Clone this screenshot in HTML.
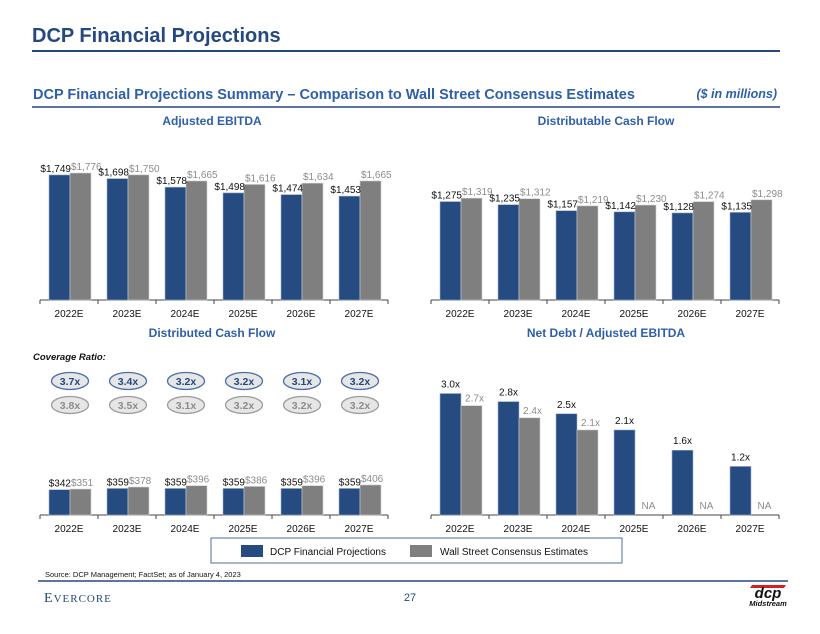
<!DOCTYPE html>
<html><head><meta charset="utf-8">
<style>
body{margin:0;background:#fff;}
svg{display:block;font-family:"Liberation Sans",Arial,sans-serif;}
</style></head>
<body>
<svg id="page" width="820" height="634" viewBox="0 0 820 634">
<text x="32" y="42" font-size="20" font-weight="bold" fill="#24497F">DCP Financial Projections</text>
<line x1="32" y1="51" x2="780" y2="51" stroke="#24497F" stroke-width="2"/>
<text x="33" y="99" font-size="14.5" font-weight="bold" fill="#2E5FA8">DCP Financial Projections Summary – Comparison to Wall Street Consensus Estimates</text>
<text x="777" y="98" font-size="12.5" font-weight="bold" font-style="italic" fill="#2E5FA8" text-anchor="end">($ in millions)</text>
<line x1="32" y1="107" x2="780" y2="107" stroke="#24497F" stroke-width="1.5"/>
<text x="212" y="125" font-size="12" font-weight="bold" fill="#2E5FA8" text-anchor="middle">Adjusted EBITDA</text>
<text x="606" y="125" font-size="12" font-weight="bold" fill="#2E5FA8" text-anchor="middle">Distributable Cash Flow</text>
<text x="212" y="337" font-size="12" font-weight="bold" fill="#2E5FA8" text-anchor="middle">Distributed Cash Flow</text>
<text x="606" y="337" font-size="12" font-weight="bold" fill="#2E5FA8" text-anchor="middle">Net Debt / Adjusted EBITDA</text>
<text x="33" y="360" font-size="9.5" font-weight="bold" font-style="italic" fill="#111">Coverage Ratio:</text>
<g id="charts"></g>
<g>
<rect x="211" y="538" width="411" height="25" fill="#fff" stroke="#4A6EA0" stroke-width="1"/>
<rect x="241" y="545" width="22" height="12" fill="#254B80"/>
<text x="270" y="555" font-size="10" fill="#111">DCP Financial Projections</text>
<rect x="410" y="545" width="22" height="12" fill="#7F7F7F"/>
<text x="440" y="555" font-size="10" fill="#111">Wall Street Consensus Estimates</text>
</g>
<text x="45" y="577" font-size="7.5" fill="#111">Source: DCP Management; FactSet; as of January 4, 2023</text>
<line x1="38" y1="581" x2="788" y2="581" stroke="#24497F" stroke-width="1.5"/>
<text x="44" y="602" font-size="14" fill="#24497F" font-family="Liberation Serif,serif" letter-spacing="1">E<tspan font-size="11">VERCORE</tspan></text>
<text x="410" y="601" font-size="11" fill="#24497F" text-anchor="middle">27</text>
<g>
<path d="M752 585 L786 585 L784 588 L750 588Z" fill="#D32027"/>
<text x="768" y="598" font-size="15" font-weight="bold" font-style="italic" fill="#111" text-anchor="middle">dcp</text>
<text x="768" y="606" font-size="7.5" font-weight="bold" font-style="italic" fill="#111" text-anchor="middle">Midstream</text>
</g>
</svg>
<script>
const categories = ["2022E","2023E","2024E","2025E","2026E","2027E"];
const ebitdaDcp = [1749,1698,1578,1498,1474,1453];
const ebitdaStreet = [1776,1750,1665,1616,1634,1665];
const dcfDcp = [1275,1235,1157,1142,1128,1135];
const dcfStreet = [1319,1312,1219,1230,1274,1298];
const distDcp = [342,359,359,359,359,359];
const distStreet = [351,378,396,386,396,406];
const coverageDcp = ["3.7x","3.4x","3.2x","3.2x","3.1x","3.2x"];
const coverageStreet = ["3.8x","3.5x","3.1x","3.2x","3.2x","3.2x"];
const leverageDcp = [3.0,2.8,2.5,2.1,1.6,1.2];
const leverageStreet = [2.7,2.4,2.1,null,null,null];

const NS = "http://www.w3.org/2000/svg";
const root = document.getElementById('charts');
function mk(tag, attrs, parent){
  const e = document.createElementNS(NS, tag);
  for (const k in attrs) e.setAttribute(k, attrs[k]);
  (parent||root).appendChild(e);
  return e;
}
function fmt$(v){ return '$' + v.toLocaleString('en-US'); }

function chart(opt){
  const g = mk('g', {});
  
  
  const x0 = opt.x0, x1 = opt.x1, base = opt.base;
  const gw = (x1 - x0) / categories.length;
  const y = v => base - v * opt.scale;
  const ax = mk('line', {x1:x0, y1:base, x2:x1, y2:base, stroke:'#444', 'stroke-width':1}, g);
  
  
  for (let i = 0; i <= categories.length; i++) {
    const t = mk('line', {x1:x0+i*gw, y1:base, x2:x0+i*gw, y2:base+4, stroke:'#444'}, g);
    
    
  }
  categories.forEach((c, i) => {
    const gx = x0 + i*gw;
    const bx = gx + 9, sx = gx + 30, bw = 21;
    const lab = mk('text', {x:gx+gw/2, y:base+17, 'font-size':10, fill:'#111', 'text-anchor':'middle'}, g);
    lab.textContent = c;
    
    
    const vb = opt.dcp[i];
    const r1 = mk('rect', {x:bx, y:y(vb), width:bw, height:base-y(vb), fill:'#254B80', stroke:'#9FB3D1', 'stroke-width':0.6}, g);
    
    
    const vs = opt.street[i];
    if (vs != null) {
      const r2 = mk('rect', {x:sx, y:y(vs), width:bw, height:base-y(vs), fill:'#7F7F7F', stroke:'#CFCFCF', 'stroke-width':0.6}, g);
      
      
    }
    if (opt.lev) {
      const t1 = mk('text', {x:bx+bw/2, y:y(vb)-6, 'font-size':10, fill:'#111', 'text-anchor':'middle'}, g);
      t1.textContent = vb.toFixed(1) + 'x';
      
      
      const t2 = mk('text', {x:sx+bw/2+3, y: vs!=null ? y(vs)-4 : base-6, 'font-size':10, fill:'#8C8C8C', 'text-anchor':'middle'}, g);
      t2.textContent = vs!=null ? vs.toFixed(1) + 'x' : 'NA';
      
      
    } else {
      const t1 = mk('text', {x:bx+bw+1, y:y(vb)-3, 'font-size':10, fill:'#111', 'text-anchor':'end'}, g);
      t1.textContent = fmt$(vb);
      
      
      const t2 = mk('text', {x:sx+1, y:y(vs)-3, 'font-size':10, fill:'#8C8C8C', 'text-anchor':'start'}, g);
      t2.textContent = fmt$(vs);
      
      
    }
  });
}
chart({name:'ebitda-chart', x0:40, x1:388, base:300, scale:0.0715, dcp:ebitdaDcp, street:ebitdaStreet});
chart({name:'dcf-chart', x0:431, x1:779, base:300, scale:0.0772, dcp:dcfDcp, street:dcfStreet});
chart({name:'distributed-chart', x0:40, x1:388, base:515, scale:0.074, dcp:distDcp, street:distStreet});
chart({name:'leverage-chart', x0:431, x1:779, base:515, scale:40.5, dcp:leverageDcp, street:leverageStreet, lev:true});

const gw = 58;
categories.forEach((c, i) => {
  const cx = 40 + i*gw + 30;
  [[coverageDcp, 381, '#4A6EA8', '#24497F', 'coverage-dcp'], [coverageStreet, 405, '#9C9C9C', '#8C8C8C', 'coverage-street']].forEach(([arr, cy, st, tc, nm]) => {
    const e = mk('ellipse', {cx:cx, cy:cy, rx:18.5, ry:8.5, fill:'#E6E6E6', stroke:st, 'stroke-width':1.3});
    
    
    const t = mk('text', {x:cx, y:cy+3.8, 'font-size':10.5, 'font-weight':'bold', fill:tc, 'text-anchor':'middle'});
    t.textContent = arr[i];
    
    
  });
});
</script>
</body></html>
